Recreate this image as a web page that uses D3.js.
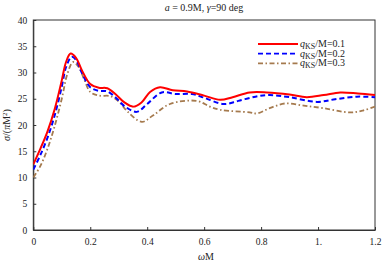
<!DOCTYPE html>
<html><head><meta charset="utf-8">
<script src="https://cdn.jsdelivr.net/npm/d3@7"></script>
<style>body{margin:0;background:#fff}svg{display:block}text{font-family:"Liberation Serif","DejaVu Serif",serif}</style>
</head><body><svg id="c" width="382" height="267"></svg>
<script>
const xTicks = [0, 0.2, 0.4, 0.6, 0.8, 1.0, 1.2];
const xTickLabels = ["0", "0.2", "0.4", "0.6", "0.8", "1.", "1.2"];
const yTicks = [0, 5, 10, 15, 20, 25, 30, 35, 40];
const seriesNames = ["0.1", "0.2", "0.3"];
const redX = [0,0.025,0.05,0.075,0.1,0.115,0.131,0.15,0.17,0.2,0.23,0.26,0.29,0.32,0.351,0.38,0.41,0.445,0.49,0.54,0.6,0.656,0.7,0.76,0.82,0.9,0.96,1.02,1.078,1.14,1.2];
const redY = [12.5,15.5,18.8,23,28.5,32,33.6,32.8,30.5,27.8,27.1,27.0,25.8,24.3,23.5,24.3,26.3,27.2,26.6,26.4,25.6,24.8,25.3,26.2,26.2,25.8,25.3,25.7,26.2,26.0,25.7];
const blueX = [0,0.025,0.05,0.075,0.1,0.115,0.135,0.15,0.17,0.2,0.23,0.26,0.29,0.32,0.363,0.4,0.451,0.5,0.557,0.6,0.668,0.72,0.78,0.83,0.9,0.996,1.06,1.136,1.2];
const blueY = [11.5,14.3,17.6,21.8,27.3,31,33.0,32.4,30.0,27.2,26.5,26.4,25.2,23.6,22.5,24.0,26.2,25.9,25.9,25.2,24.0,24.6,25.4,25.7,25.3,24.4,24.9,25.4,25.3];
const brownX = [0,0.025,0.05,0.075,0.1,0.12,0.14,0.16,0.18,0.2,0.23,0.27,0.3,0.33,0.381,0.42,0.48,0.574,0.62,0.656,0.76,0.785,0.83,0.884,0.95,1.019,1.113,1.16,1.2];
const brownY = [10,12.2,15.5,19.8,25,29.8,32.0,31.0,28.5,26.3,25.6,25.5,24.5,22.6,20.6,21.8,24.0,24.6,23.5,22.9,22.4,22.2,23.2,24.1,23.7,23.2,22.4,22.8,23.5];

const svg = d3.select("#c");
const L = 33.3, R = 375, T = 20, B = 230;
const x = d3.scaleLinear().domain([0, 1.2]).range([L, R]);
const y = d3.scaleLinear().domain([0, 40]).range([B, T]);

svg.append("rect").attr("x", L).attr("y", T).attr("width", R - L).attr("height", B - T)
  .attr("fill", "none").attr("stroke", "#333").attr("stroke-width", 1);

const xa = svg.append("g").attr("transform", `translate(0,${B})`)
  .call(d3.axisBottom(x).tickValues(xTicks).tickFormat((d, i) => xTickLabels[i]).tickSizeInner(-3).tickSizeOuter(0).tickPadding(8));
const ya = svg.append("g").attr("transform", `translate(${L},0)`)
  .call(d3.axisLeft(y).tickValues(yTicks).tickSizeInner(-3).tickSizeOuter(0).tickPadding(6));
[xa, ya].forEach(g => {
  g.select(".domain").attr("stroke", "#333");
  g.selectAll("line").attr("stroke", "#333");
  g.selectAll("text").attr("font-size", 9.5).attr("fill", "#222").attr("font-family", "Liberation Serif");
});

const line = d3.line().x(d => x(d[0])).y(d => y(d[1])).curve(d3.curveCatmullRom);
const zip = (a, b) => a.map((v, i) => [v, b[i]]);
const series = [
  {xs: brownX, ys: brownY, color: "#a57a4e", dash: "5,2.5,1.5,2.5", w: 1.8},
  {xs: blueX, ys: blueY, color: "#0000ff", dash: "5,3", w: 2},
  {xs: redX, ys: redY, color: "#ff0000", dash: null, w: 2}
];
svg.append("clipPath").attr("id", "cp").append("rect").attr("x", L).attr("y", T).attr("width", R - L).attr("height", B - T);
series.forEach(s => {
  svg.append("path").attr("d", line(zip(s.xs, s.ys))).attr("fill", "none")
    .attr("stroke", s.color).attr("stroke-width", s.w).attr("stroke-dasharray", s.dash)
    .attr("clip-path", "url(#cp)");
});

const leg = [
  {color: "#ff0000", dash: null},
  {color: "#0000ff", dash: "5,3"},
  {color: "#a57a4e", dash: "5,2.5,1.5,2.5"}
];
leg.forEach((s, i) => {
  const ly = 44 + i * 9.7;
  svg.append("line").attr("x1", 258).attr("x2", 298).attr("y1", ly).attr("y2", ly)
    .attr("stroke", s.color).attr("stroke-width", i === 0 ? 2 : 1.8).attr("stroke-dasharray", s.dash);
  const t = svg.append("text").attr("x", 300).attr("y", ly + 3).attr("font-size", 10).attr("fill", "#222");
  t.append("tspan").attr("font-style", "italic").text("q");
  t.append("tspan").attr("font-size", 8).attr("dy", 2).text("KS");
  t.append("tspan").attr("dy", -2).text("/M=" + seriesNames[i]);
});

const tt = svg.append("text").attr("x", 204).attr("y", 11).attr("text-anchor", "middle").attr("font-size", 10).attr("fill", "#222");
tt.append("tspan").attr("font-style", "italic").text("a");
tt.append("tspan").text(" = 0.9M, ");
tt.append("tspan").attr("font-style", "italic").text("γ");
tt.append("tspan").text("=90 deg");

const xl = svg.append("text").attr("x", 206).attr("y", 260).attr("text-anchor", "middle").attr("font-size", 10).attr("fill", "#222");
xl.append("tspan").attr("font-style", "italic").text("ω");
xl.append("tspan").text("M");

const yl = svg.append("text").attr("transform", "translate(10,125) rotate(-90)").attr("text-anchor", "middle").attr("font-size", 10).attr("fill", "#222");
yl.append("tspan").attr("font-style", "italic").text("σ");
yl.append("tspan").text("/(");
yl.append("tspan").attr("font-style", "italic").text("π");
yl.append("tspan").text("M");
yl.append("tspan").attr("font-size", 7).attr("dy", -3).text("2");
yl.append("tspan").attr("dy", 3).text(")");
</script></body></html>
